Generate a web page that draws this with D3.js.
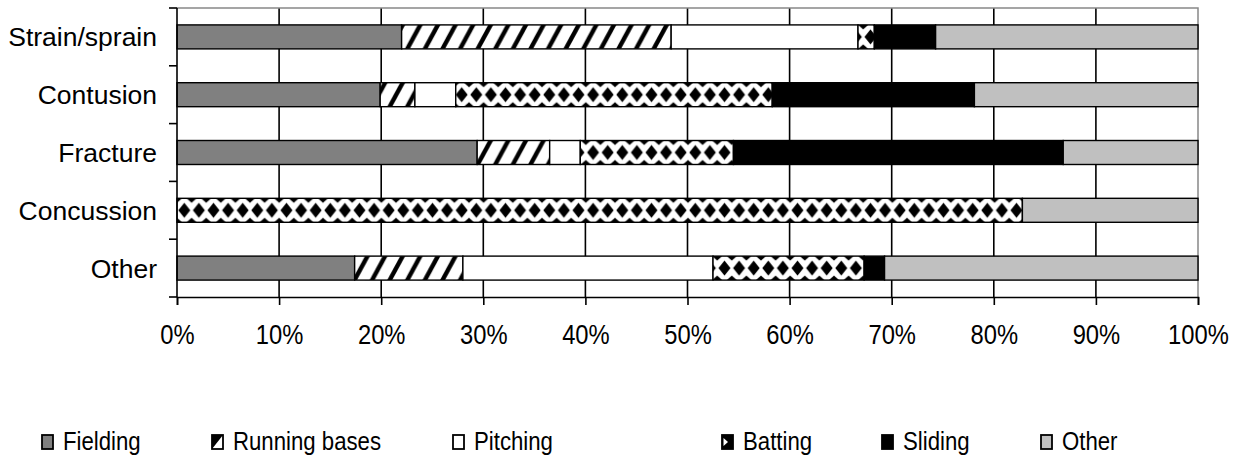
<!DOCTYPE html>
<html><head><meta charset="utf-8">
<script src="https://cdn.jsdelivr.net/npm/d3@7"></script>
<style>body{margin:0;background:#fff}svg{display:block}text{font-family:"Liberation Sans",Arial,sans-serif;fill:#000}</style>
</head><body>
<svg id="c" width="1245" height="462"></svg>
<script>
const categories = ["Strain/sprain","Contusion","Fracture","Concussion","Other"];
const seriesNames = ["Fielding","Running bases","Pitching","Batting","Sliding","Other"];
const fielding = [22.0, 19.9, 29.4, 0, 17.4];
const runningBases = [26.4, 3.4, 7.1, 0, 10.6];
const pitching = [18.3, 4.0, 3.0, 0, 24.5];
const batting = [1.6, 31.0, 15.0, 82.8, 14.8];
const sliding = [6.0, 19.8, 32.3, 0, 2.0];
const other = [25.7, 21.9, 13.2, 17.2, 30.7];
const xTicks = [0,10,20,30,40,50,60,70,80,90,100];

const series = [fielding, runningBases, pitching, batting, sliding, other];
const fills = ["#808080","hatch","#ffffff","batting","#000000","#c0c0c0"];

const svg = d3.select("#c");
const L = 177, R = 1198, T = 8, B = 297;
const x = d3.scaleLinear().domain([0,100]).range([L,R]);
const y = d3.scaleBand().domain(categories).range([T,B]).paddingInner(0.585).paddingOuter(0.2925);
const defs = svg.append("defs");

function compress(sel, f){ sel.each(function(){ const w=this.getComputedTextLength(); d3.select(this).attr("textLength", w*f).attr("lengthAdjust","spacingAndGlyphs");}); }

// gridlines
svg.append("g").selectAll("line").data(xTicks.slice(1,-1)).join("line")
  .attr("x1",d=>x(d)).attr("x2",d=>x(d)).attr("y1",T).attr("y2",B)
  .attr("stroke","#000").attr("stroke-width",1.6);
// top/right border
svg.append("path").attr("d",`M${L},${T}H${R}V${B}`).attr("fill","none").attr("stroke","#888").attr("stroke-width",1.5);

// patterns per row
categories.forEach((c,i)=>{
  const bh = y.bandwidth(), top = y(c);
  const hw = 17.6;
  const hp = defs.append("pattern").attr("id","hatch"+i).attr("patternUnits","userSpaceOnUse")
    .attr("x",0).attr("y",top).attr("width",hw).attr("height",bh);
  hp.append("rect").attr("width",hw).attr("height",bh).attr("fill","#fff");
  [-hw,0,hw].forEach(o=>{
    hp.append("polygon").attr("points",`${o},${bh} ${o+13},0 ${o+18},0 ${o+5},${bh}`).attr("fill","#000");
  });
  const bw = 14.6;
  const bp = defs.append("pattern").attr("id","batting"+i).attr("patternUnits","userSpaceOnUse")
    .attr("x",x(0)).attr("y",top).attr("width",bw).attr("height",bh);
  bp.append("rect").attr("width",bw).attr("height",bh).attr("fill","#fff");
  const cx = bw/2, cy = bh/2;
  bp.append("polygon").attr("points",`${cx},${cy-7.5} ${cx+6},${cy} ${cx},${cy+7.5} ${cx-6},${cy}`).attr("fill","#000");
  [0,bw].forEach(o=>{
    bp.append("polygon").attr("points",`${o-5},0 ${o+5},0 ${o},4.5`).attr("fill","#000");
    bp.append("polygon").attr("points",`${o-5},${bh} ${o+5},${bh} ${o},${bh-4.5}`).attr("fill","#000");
  });
});

// bars
const stack = categories.map((c,i)=>{ let acc=0; return series.map((s,j)=>{ const v=s[i]; const seg={cat:c,row:i,ser:j,x0:acc,x1:acc+v}; acc+=v; return seg;}).filter(d=>d.x1>d.x0);}).flat();
function fillOf(d){ const f=fills[d.ser]; return f==="hatch"?`url(#hatch${d.row})`:f==="batting"?`url(#batting${d.row})`:f; }
svg.append("g").selectAll("rect").data(stack).join("rect")
  .attr("x",d=>x(d.x0)).attr("width",d=>x(d.x1)-x(d.x0))
  .attr("y",d=>y(d.cat)).attr("height",y.bandwidth())
  .attr("fill",fillOf).attr("stroke","#000").attr("stroke-width",1.4);

// axes
const xa = svg.append("g").attr("transform",`translate(0,${B})`)
  .call(d3.axisBottom(x).tickValues(xTicks).tickSize(8).tickFormat(d=>d+"%"));
xa.select(".domain").attr("stroke","#000").attr("stroke-width",1.6);
xa.selectAll(".tick line").attr("stroke","#000").attr("stroke-width",1.6);
xa.selectAll(".tick text").attr("font-size",27).attr("font-family","Liberation Sans, Arial, sans-serif").attr("dy",0).attr("fill","#000");
xa.selectAll(".tick text").call(compress,0.88);
xa.selectAll(".tick text").attr("y",47);

const bounds = categories.map(c=>y(c)-y.step()*y.paddingInner()/2).concat([B]);
svg.append("line").attr("x1",L).attr("x2",L).attr("y1",T).attr("y2",B).attr("stroke","#000").attr("stroke-width",1.6);
svg.append("g").selectAll("line").data(bounds).join("line")
  .attr("x1",L-8).attr("x2",L).attr("y1",d=>d).attr("y2",d=>d).attr("stroke","#000").attr("stroke-width",1.6);
svg.append("g").selectAll("text").data(categories).join("text")
  .attr("x",157).attr("y",d=>y(d)+y.bandwidth()/2+9.5).attr("text-anchor","end")
  .attr("font-size",26.5).text(d=>d);

// legend
const legX = [42,212,453,722,882,1041];
const lg = svg.append("g");
seriesNames.forEach((n,j)=>{
  const g = lg.append("g");
  const sx = legX[j], sy = 435, sw = 11, sh = 14;
  if(fills[j]==="hatch"){
    g.append("rect").attr("x",sx).attr("y",sy).attr("width",sw).attr("height",sh).attr("fill","#fff").attr("stroke","#000").attr("stroke-width",1.8);
    g.append("polygon").attr("points",`${sx},${sy+sh} ${sx+sw},${sy} ${sx},${sy}`).attr("fill","#000");
  } else if(fills[j]==="batting"){
    g.append("rect").attr("x",sx).attr("y",sy).attr("width",sw).attr("height",sh).attr("fill","#000").attr("stroke","#000").attr("stroke-width",1.8);
    g.append("polygon").attr("points",`${sx+1.5},${sy+3} ${sx+6},${sy+7} ${sx+1.5},${sy+11}`).attr("fill","#fff");
  } else {
    g.append("rect").attr("x",sx).attr("y",sy).attr("width",sw).attr("height",sh).attr("fill",fills[j]).attr("stroke","#000").attr("stroke-width",1.8);
  }
  g.append("text").attr("x",sx+21).attr("y",450).attr("font-size",25.5).text(n).call(compress,0.87);
});
</script>
</body></html>
